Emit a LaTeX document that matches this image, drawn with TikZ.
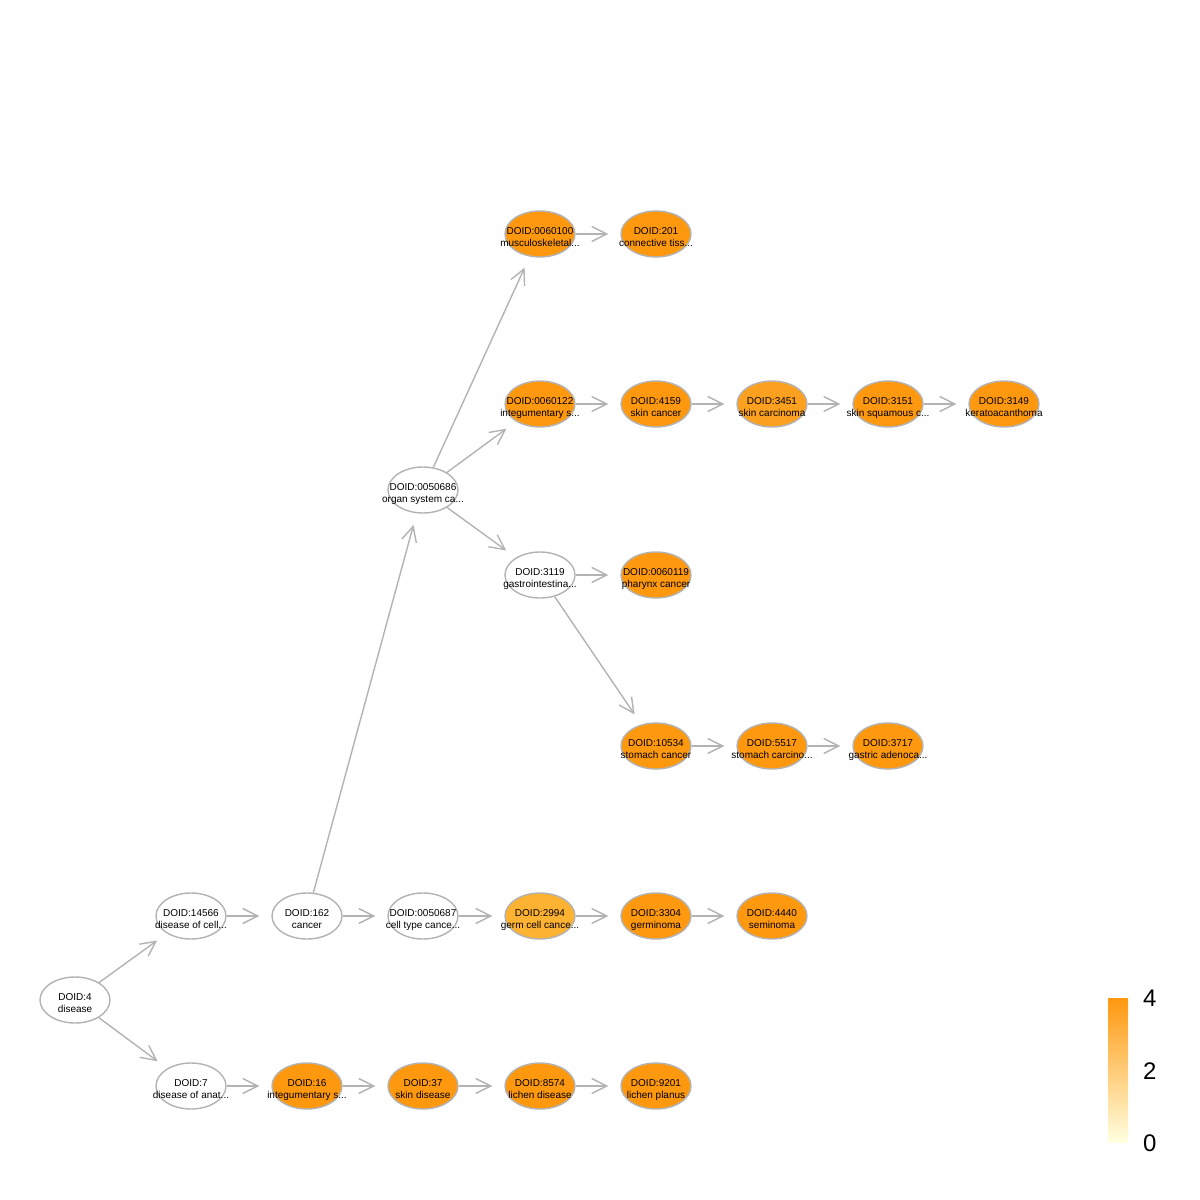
\documentclass[tikz,border=0pt]{standalone}
\usepackage{fontspec}
\setmainfont{Liberation Sans}
\usetikzlibrary{shapes.geometric,arrows.meta}
\definecolor{edgegray}{HTML}{B3B3B3}
\definecolor{hot}{HTML}{FE980F}
\definecolor{warm}{HTML}{FDB232}
\definecolor{mid}{HTML}{FCA01F}
\definecolor{pale}{HTML}{FFFFE0}
\newcommand{\twol}[2]{\raisebox{-6.5pt}[0pt][0pt]{\makebox[0pt][c]{\begin{tabular}{@{}c@{}}#1\\#2\end{tabular}}}}
\tikzset{
  term/.style={ellipse, draw=edgegray, line width=1.4pt, minimum width=70pt, minimum height=46pt,
    inner sep=0pt, font=\fontsize{10}{12}\selectfont, fill=white},
  hotterm/.style={term, fill=hot},
  warmterm/.style={term, fill=warm},
  midterm/.style={term, fill=mid},
  edge/.style={draw=edgegray, line width=1.4pt, shorten >=12pt,
    -{Straight Barb[length=15pt,width=15pt,line width=1.4pt]}},
  legnum/.style={font=\fontsize{24}{28}\selectfont, anchor=west, inner sep=0pt}
}
\begin{document}
\begin{tikzpicture}[x=1pt,y=-1pt]
\useasboundingbox (0,0) rectangle (1200,1200);
\renewcommand{\arraystretch}{1.0}
% nodes
\node[term] (d4) at (75,1000) {\twol{DOID:4}{disease}};
\node[term] (d14566) at (191,916) {\twol{DOID:14566}{disease of cell...}};
\node[term] (d7) at (191,1086) {\twol{DOID:7}{disease of anat...}};
\node[term] (d162) at (307,916) {\twol{DOID:162}{cancer}};
\node[term] (d50687) at (423,916) {\twol{DOID:0050687}{cell type cance...}};
\node[warmterm] (d2994) at (540,916) {\twol{DOID:2994}{germ cell cance...}};
\node[hotterm] (d3304) at (656,916) {\twol{DOID:3304}{germinoma}};
\node[hotterm] (d4440) at (772,916) {\twol{DOID:4440}{seminoma}};
\node[hotterm] (d16) at (307,1086) {\twol{DOID:16}{integumentary s...}};
\node[hotterm] (d37) at (423,1086) {\twol{DOID:37}{skin disease}};
\node[hotterm] (d8574) at (540,1086) {\twol{DOID:8574}{lichen disease}};
\node[hotterm] (d9201) at (656,1086) {\twol{DOID:9201}{lichen planus}};
\node[term] (d50686) at (423,490) {\twol{DOID:0050686}{organ system ca...}};
\node[hotterm] (d60100) at (540,234) {\twol{DOID:0060100}{musculoskeletal...}};
\node[hotterm] (d201) at (656,234) {\twol{DOID:201}{connective tiss...}};
\node[hotterm] (d60122) at (540,404) {\twol{DOID:0060122}{integumentary s...}};
\node[hotterm] (d4159) at (656,404) {\twol{DOID:4159}{skin cancer}};
\node[midterm] (d3451) at (772,404) {\twol{DOID:3451}{skin carcinoma}};
\node[hotterm] (d3151) at (888,404) {\twol{DOID:3151}{skin squamous c...}};
\node[hotterm] (d3149) at (1004,404) {\twol{DOID:3149}{keratoacanthoma}};
\node[term] (d3119) at (540,575) {\twol{DOID:3119}{gastrointestina...}};
\node[hotterm] (d60119) at (656,575) {\twol{DOID:0060119}{pharynx cancer}};
\node[hotterm] (d10534) at (656,746) {\twol{DOID:10534}{stomach cancer}};
\node[hotterm] (d5517) at (772,746) {\twol{DOID:5517}{stomach carcino...}};
\node[hotterm] (d3717) at (888,746) {\twol{DOID:3717}{gastric adenoca...}};
% edges
\draw[edge] (d4) -- (d14566);
\draw[edge] (d4) -- (d7);
\draw[edge] (d14566) -- (d162);
\draw[edge] (d162) -- (d50687);
\draw[edge] (d50687) -- (d2994);
\draw[edge] (d2994) -- (d3304);
\draw[edge] (d3304) -- (d4440);
\draw[edge] (d7) -- (d16);
\draw[edge] (d16) -- (d37);
\draw[edge] (d37) -- (d8574);
\draw[edge] (d8574) -- (d9201);
\draw[edge] (d162) -- (d50686);
\draw[edge] (d50686) -- (d60100);
\draw[edge] (d50686) -- (d60122);
\draw[edge] (d50686) -- (d3119);
\draw[edge] (d60100) -- (d201);
\draw[edge] (d60122) -- (d4159);
\draw[edge] (d4159) -- (d3451);
\draw[edge] (d3451) -- (d3151);
\draw[edge] (d3151) -- (d3149);
\draw[edge] (d3119) -- (d60119);
\draw[edge] (d3119) -- (d10534);
\draw[edge] (d10534) -- (d5517);
\draw[edge] (d5517) -- (d3717);
% colour bar
\shade[top color=hot, bottom color=pale] (1108,998) rectangle (1128,1142);
\node[legnum] (l4) at (1143,998) {4};
\node[legnum] (l2) at (1143,1071) {2};
\node[legnum] (l0) at (1143,1143) {0};
\end{tikzpicture}
\end{document}
